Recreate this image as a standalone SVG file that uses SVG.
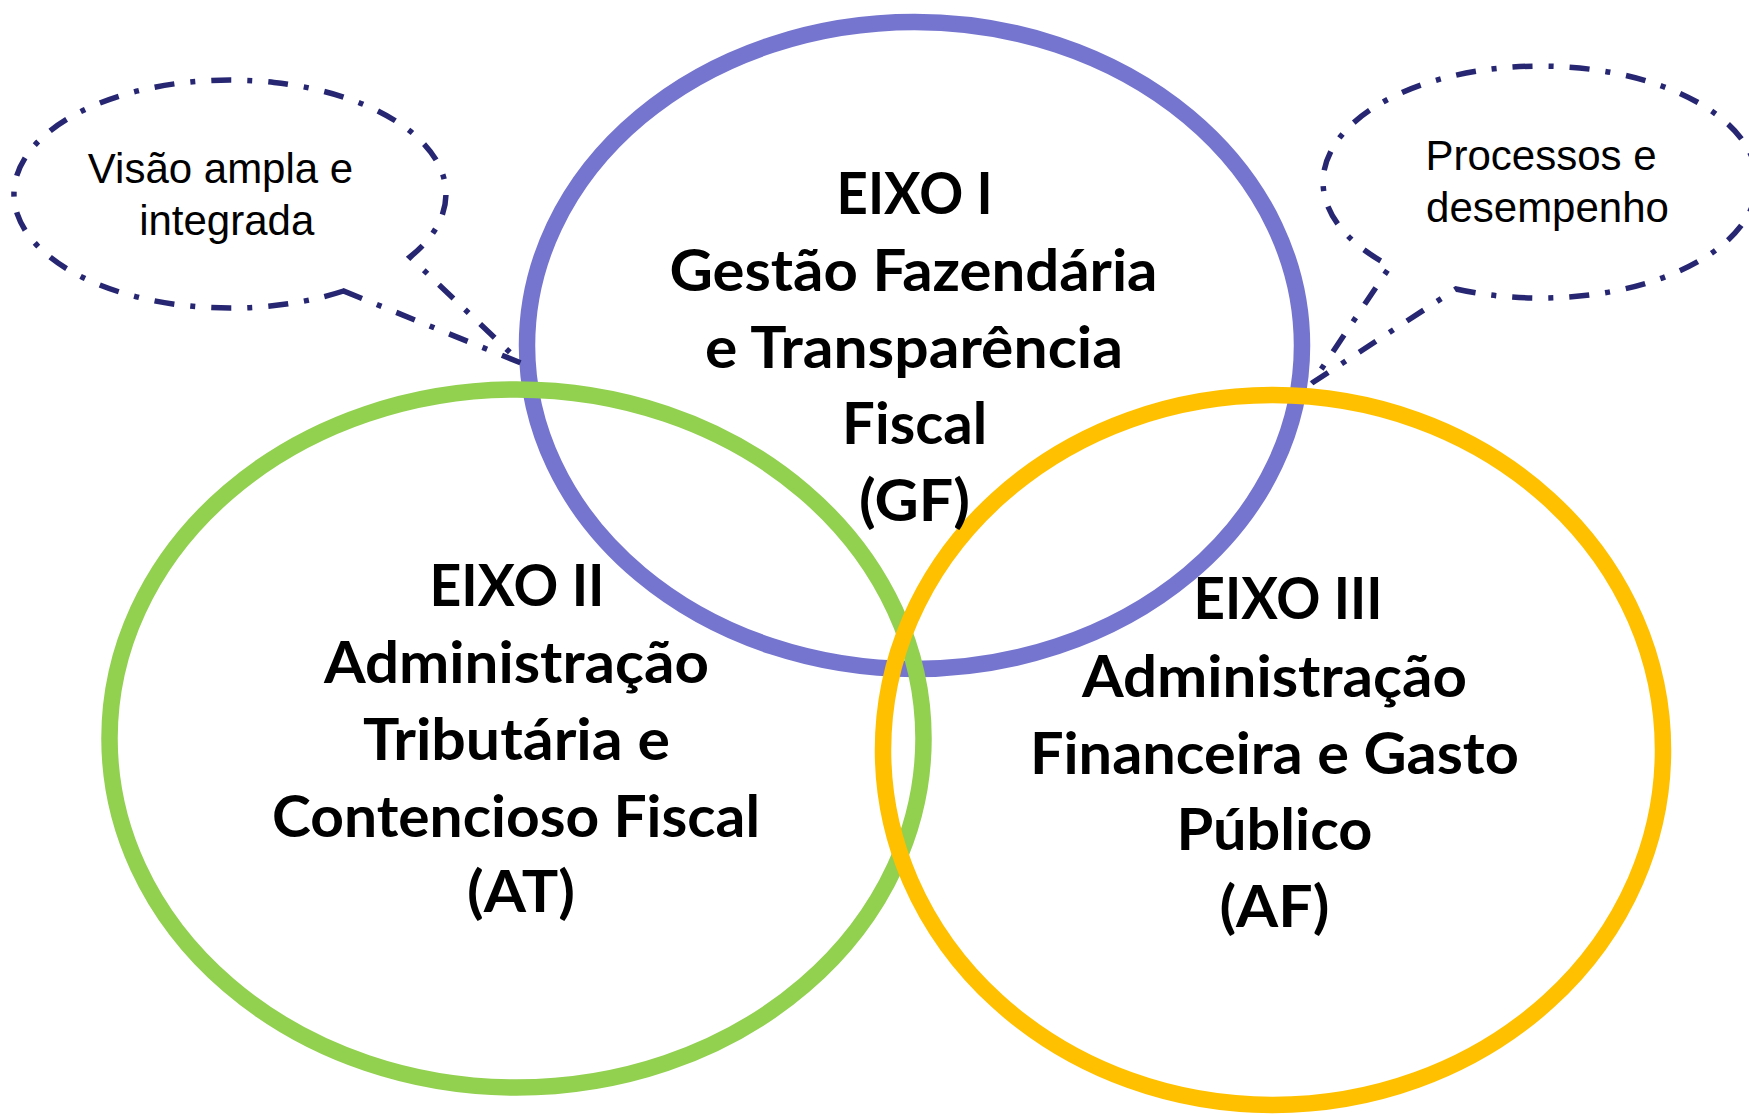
<svg xmlns="http://www.w3.org/2000/svg" width="1749" height="1115" viewBox="0 0 1749 1115">
<style>
.ring{fill:none;stroke-width:16.5}
.gf{stroke:#7575CF}
.at{stroke:#92D050}
.af{stroke:#FFC000}
.main{font-family:Lato,"Carlito","Open Sans",sans-serif;font-weight:700;font-size:58px;fill:#000;text-anchor:middle}
.call{fill:none;stroke:#262673;stroke-width:5.5;stroke-dasharray:20 16 5 16}
.ct{font-family:"Liberation Sans",Arial,sans-serif;font-size:42px;fill:#000;text-anchor:middle}
</style>
<rect width="1749" height="1115" fill="#FFFFFF"/>
<g id="node-gf">
<ellipse class="ring gf" cx="914.5" cy="345.5" rx="387.5" ry="323.5"/>
</g>
<g id="node-at">
<ellipse class="ring at" cx="516.5" cy="738.5" rx="407" ry="349"/>
</g>
<g id="node-af">
<ellipse class="ring af" cx="1273" cy="750" rx="390" ry="355"/>
</g>
<g id="labels">
<text class="main" x="914.6" y="214" textLength="156" lengthAdjust="spacingAndGlyphs">EIXO I</text>
<text class="main" x="913.5" y="291" textLength="488" lengthAdjust="spacingAndGlyphs">Gestão Fazendária</text>
<text class="main" x="914" y="368" textLength="418" lengthAdjust="spacingAndGlyphs">e Transparência</text>
<text class="main" x="914.6" y="444" textLength="145" lengthAdjust="spacingAndGlyphs">Fiscal</text>
<text class="main" x="914.6" y="521" textLength="111" lengthAdjust="spacingAndGlyphs">(GF)</text>
<text class="main" x="517" y="606" textLength="175" lengthAdjust="spacingAndGlyphs">EIXO II</text>
<text class="main" x="516.4" y="683" textLength="385" lengthAdjust="spacingAndGlyphs">Administração</text>
<text class="main" x="516.4" y="760" textLength="307" lengthAdjust="spacingAndGlyphs">Tributária e</text>
<text class="main" x="516" y="837" textLength="488" lengthAdjust="spacingAndGlyphs">Contencioso Fiscal</text>
<text class="main" x="521" y="912" textLength="108" lengthAdjust="spacingAndGlyphs">(AT)</text>
<text class="main" x="1288" y="619" textLength="189" lengthAdjust="spacingAndGlyphs">EIXO III</text>
<text class="main" x="1274.4" y="697" textLength="385" lengthAdjust="spacingAndGlyphs">Administração</text>
<text class="main" x="1274.4" y="774" textLength="489" lengthAdjust="spacingAndGlyphs">Financeira e Gasto</text>
<text class="main" x="1274.4" y="850" textLength="196" lengthAdjust="spacingAndGlyphs">Público</text>
<text class="main" x="1274.4" y="927" textLength="110" lengthAdjust="spacingAndGlyphs">(AF)</text>
</g>
<g id="callout-left">
<path class="call" d="M343.5,291 A216,114 0 1 1 410,257 L521,363 Z"/>
<text class="ct" x="220.5" y="183">Visão ampla e</text>
<text class="ct" x="226.7" y="235">integrada</text>
</g>
<g id="callout-right">
<path class="call" d="M1456,289 A217,116 0 1 0 1390.3,266 L1312,383 Z"/>
<text class="ct" x="1541" y="170">Processos e</text>
<text class="ct" x="1547.5" y="222">desempenho</text>
</g>
<g id="connectors"/>
</svg>
